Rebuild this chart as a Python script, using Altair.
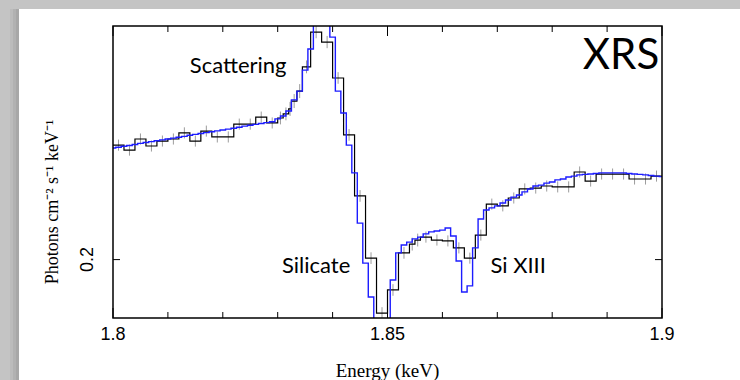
import altair as alt
import pandas as pd

W, H = 549, 292

# Observed spectrum: grouped bins (lower edges in keV), flux and 1-sigma errors
bin_lo = [
    1.800, 1.802, 1.804, 1.806, 1.808, 1.810, 1.812, 1.814, 1.816, 1.818,
    1.820, 1.822, 1.824, 1.826, 1.828,
    1.830, 1.831, 1.832, 1.8325, 1.8335, 1.8345, 1.836, 1.838,
    1.840, 1.842, 1.844, 1.846, 1.848, 1.850, 1.852,
    1.854, 1.855, 1.856, 1.858, 1.860, 1.862, 1.864, 1.866, 1.868, 1.870,
    1.872, 1.874, 1.876, 1.878, 1.880, 1.882, 1.884, 1.886, 1.888, 1.890,
    1.892, 1.894, 1.896, 1.898,
]
E_MAX = 1.900
flux = [
    0.2392, 0.2375, 0.2413, 0.2389, 0.2406, 0.2413, 0.2434, 0.2406, 0.2440, 0.2420,
    0.2420, 0.2464, 0.2464, 0.2488, 0.2468,
    0.2485, 0.2499, 0.2516, 0.2543, 0.2577, 0.2660, 0.2779, 0.2745,
    0.2622, 0.2427, 0.2218, 0.2005, 0.1817, 0.1896, 0.2023,
    0.2053, 0.2067, 0.2077, 0.2067, 0.2064, 0.2040, 0.2005, 0.2084, 0.2190, 0.2184,
    0.2211, 0.2242, 0.2245, 0.2252, 0.2249, 0.2249, 0.2300, 0.2269, 0.2293, 0.2293,
    0.2293, 0.2276, 0.2276, 0.2286,
]
flux_err = [
    0.0019, 0.0019, 0.0019, 0.0019, 0.0019, 0.0019, 0.0019, 0.0019, 0.0019, 0.0019,
    0.0019, 0.0019, 0.0019, 0.0019, 0.0019,
    0.0022, 0.0022, 0.0024, 0.0024, 0.0024, 0.0022, 0.0021, 0.0021,
    0.0020, 0.0020, 0.0020, 0.0020, 0.0020, 0.0020, 0.0020,
    0.0022, 0.0022, 0.0019, 0.0019, 0.0019, 0.0019, 0.0019, 0.0019, 0.0019, 0.0019,
    0.0019, 0.0019, 0.0019, 0.0019, 0.0019, 0.0019, 0.0019, 0.0019, 0.0019, 0.0019,
    0.0019, 0.0019, 0.0019, 0.0019,
]

# Model folded on the fine 1 eV channel grid
model_energy = [round(1.800 + 0.001 * k, 3) for k in range(101)]
model_flux = [
    0.2382, 0.2385, 0.2388, 0.2391, 0.2394, 0.2398, 0.2401, 0.2404, 0.2407, 0.2410,
    0.2413, 0.2416, 0.2419, 0.2422, 0.2426, 0.2429, 0.2432, 0.2435, 0.2438, 0.2441,
    0.2444, 0.2447, 0.2450, 0.2453, 0.2457, 0.2460, 0.2463, 0.2466, 0.2469, 0.2472,
    0.2482, 0.2492, 0.2509, 0.2547, 0.2577, 0.2649, 0.2721, 0.2850, 0.2900, 0.2850,
    0.2762, 0.2577, 0.2502, 0.2392, 0.2297, 0.2125, 0.1988, 0.1872, 0.1750, 0.1750,
    0.1750, 0.1930, 0.2023, 0.2050, 0.2060, 0.2071, 0.2077, 0.2088, 0.2095, 0.2098,
    0.2101, 0.2108, 0.2081, 0.1995, 0.1889, 0.1910, 0.2040, 0.2139, 0.2170, 0.2177,
    0.2184, 0.2194, 0.2204, 0.2214, 0.2221, 0.2232, 0.2242, 0.2252, 0.2255, 0.2262,
    0.2266, 0.2273, 0.2276, 0.2283, 0.2286, 0.2290, 0.2292, 0.2293, 0.2295, 0.2297,
    0.2297, 0.2297, 0.2297, 0.2297, 0.2295, 0.2293, 0.2292, 0.2290, 0.2288, 0.2286,
    0.2284,
]

# Axis ticks and labels
major_ticks = [1.80, 1.85, 1.90]
major_labels = ["1.8", "1.85", "1.9"]
minor_ticks = [1.81, 1.82, 1.83, 1.84, 1.86, 1.87, 1.88, 1.89]
y_tick = 0.2

# Feature annotations
notes = ["Scattering", "Silicate", "Si XIII"]
note_e = [1.8228, 1.8370, 1.8738]
note_f = [0.2663, 0.1978, 0.1978]

x_scale = alt.Scale(domain=[1.8, 1.9], nice=False, zero=False)
y_scale = alt.Scale(domain=[0.18, 0.28], nice=False, zero=False)

hi_edges = bin_lo[1:] + [E_MAX]
step_df = pd.DataFrame({"energy": bin_lo + [E_MAX], "flux": flux + [flux[-1]]})
err_df = pd.DataFrame({
    "mid": [(a + b) / 2 for a, b in zip(bin_lo, hi_edges)],
    "lo": [f - e for f, e in zip(flux, flux_err)],
    "hi": [f + e for f, e in zip(flux, flux_err)],
})
model_df = pd.DataFrame({"energy": model_energy, "flux": model_flux})
major_df = pd.DataFrame({"energy": major_ticks, "label": major_labels})
minor_df = pd.DataFrame({"energy": minor_ticks})
note_df = pd.DataFrame({"energy": note_e, "flux": note_f, "label": notes})
one = pd.DataFrame({"k": [0]})

X = lambda f: alt.X(f, scale=x_scale, axis=None)
Y = lambda f: alt.Y(f, scale=y_scale, axis=None)

# Page: grey backdrop with white slide and a soft left shadow
shadow = [
    alt.Chart(one).mark_rect(color=c, clip=False).encode(
        x=alt.value(x0), x2=alt.value(x0 + 3), y=alt.value(-17), y2=alt.value(354))
    for x0, c in [(-103, "#bcbcbc"), (-100, "#b2b2b2"), (-97, "#a8a8a8")]
]
panel = alt.Chart(one).mark_rect(color="white", clip=False).encode(
    x=alt.value(-94), x2=alt.value(W + 78), y=alt.value(-17), y2=alt.value(H + 62))

errors = alt.Chart(err_df).mark_rule(color="#9c9c9c", strokeWidth=1, clip=True).encode(
    x=X("mid:Q"), y=Y("lo:Q"), y2="hi:Q")
data_line = alt.Chart(step_df).mark_line(
    interpolate="step-after", color="black", strokeWidth=1.2, clip=True
).encode(x=X("energy:Q"), y=Y("flux:Q"))
model_line = alt.Chart(model_df).mark_line(
    interpolate="step", color="#1c1cff", strokeWidth=1.4, clip=True
).encode(x=X("energy:Q"), y=Y("flux:Q"))

frame = alt.Chart(one).mark_rect(fillOpacity=0, stroke="black", strokeWidth=1.5).encode(
    x=alt.value(0), x2=alt.value(W), y=alt.value(0), y2=alt.value(H))


def ticks(df, length):
    bottom = alt.Chart(df).mark_rule(color="black", strokeWidth=1).encode(
        x=X("energy:Q"), y=alt.value(H), y2=alt.value(H - length))
    top = alt.Chart(df).mark_rule(color="black", strokeWidth=1).encode(
        x=X("energy:Q"), y=alt.value(0), y2=alt.value(length))
    return [bottom, top]


ytick_l = alt.Chart(one).mark_rule(color="black", strokeWidth=1).encode(
    x=alt.value(0), x2=alt.value(7), y=alt.Y(datum=y_tick, scale=y_scale, axis=None))
ytick_r = alt.Chart(one).mark_rule(color="black", strokeWidth=1).encode(
    x=alt.value(W - 7), x2=alt.value(W), y=alt.Y(datum=y_tick, scale=y_scale, axis=None))

x_labels = alt.Chart(major_df).mark_text(
    font="Liberation Sans", fontSize=18, baseline="middle", align="center"
).encode(x=X("energy:Q"), y=alt.value(H + 17), text="label:N")
y_label = alt.Chart(one).mark_text(
    font="Liberation Sans", fontSize=18, angle=270, baseline="middle", align="center"
).encode(x=alt.value(-25), y=alt.Y(datum=y_tick, scale=y_scale, axis=None),
         text=alt.value("0.2"))

x_title = alt.Chart(one).mark_text(
    font="Liberation Serif", fontSize=19, baseline="middle", align="center"
).encode(x=alt.value(W / 2), y=alt.value(H + 53), text=alt.value("Energy (keV)"))
y_title = alt.Chart(one).mark_text(
    font="Liberation Serif", fontSize=18, angle=270, baseline="middle", align="center"
).encode(x=alt.value(-60), y=alt.value(176),
         text=alt.value("Photons cm\u207b\u00b2 s\u207b\u00b9 keV\u207b\u00b9"))

annot = alt.Chart(note_df).mark_text(
    font="Lato", fontSize=22, baseline="middle", align="center", color="black"
).encode(x=X("energy:Q"), y=Y("flux:Q"), text="label:N")
xrs = alt.Chart(one).mark_text(
    font="Lato", fontSize=42, baseline="middle", align="center", color="black"
).encode(x=alt.value(508), y=alt.value(30), text=alt.value("XRS"))

chart = alt.layer(
    *shadow, panel, errors, data_line, model_line, frame,
    *ticks(major_df, 10), *ticks(minor_df, 6),
    ytick_l, ytick_r, x_labels, y_label, x_title, y_title, annot, xrs,
).properties(
    width=W, height=H,
    padding={"left": 113, "top": 26, "right": 78, "bottom": 62},
    autosize=alt.AutoSizeParams(type="none"),
).configure(background="#c4c4c4").configure_view(stroke=None)

chart.save("out.html", embed_options={"renderer": "svg", "actions": False})
